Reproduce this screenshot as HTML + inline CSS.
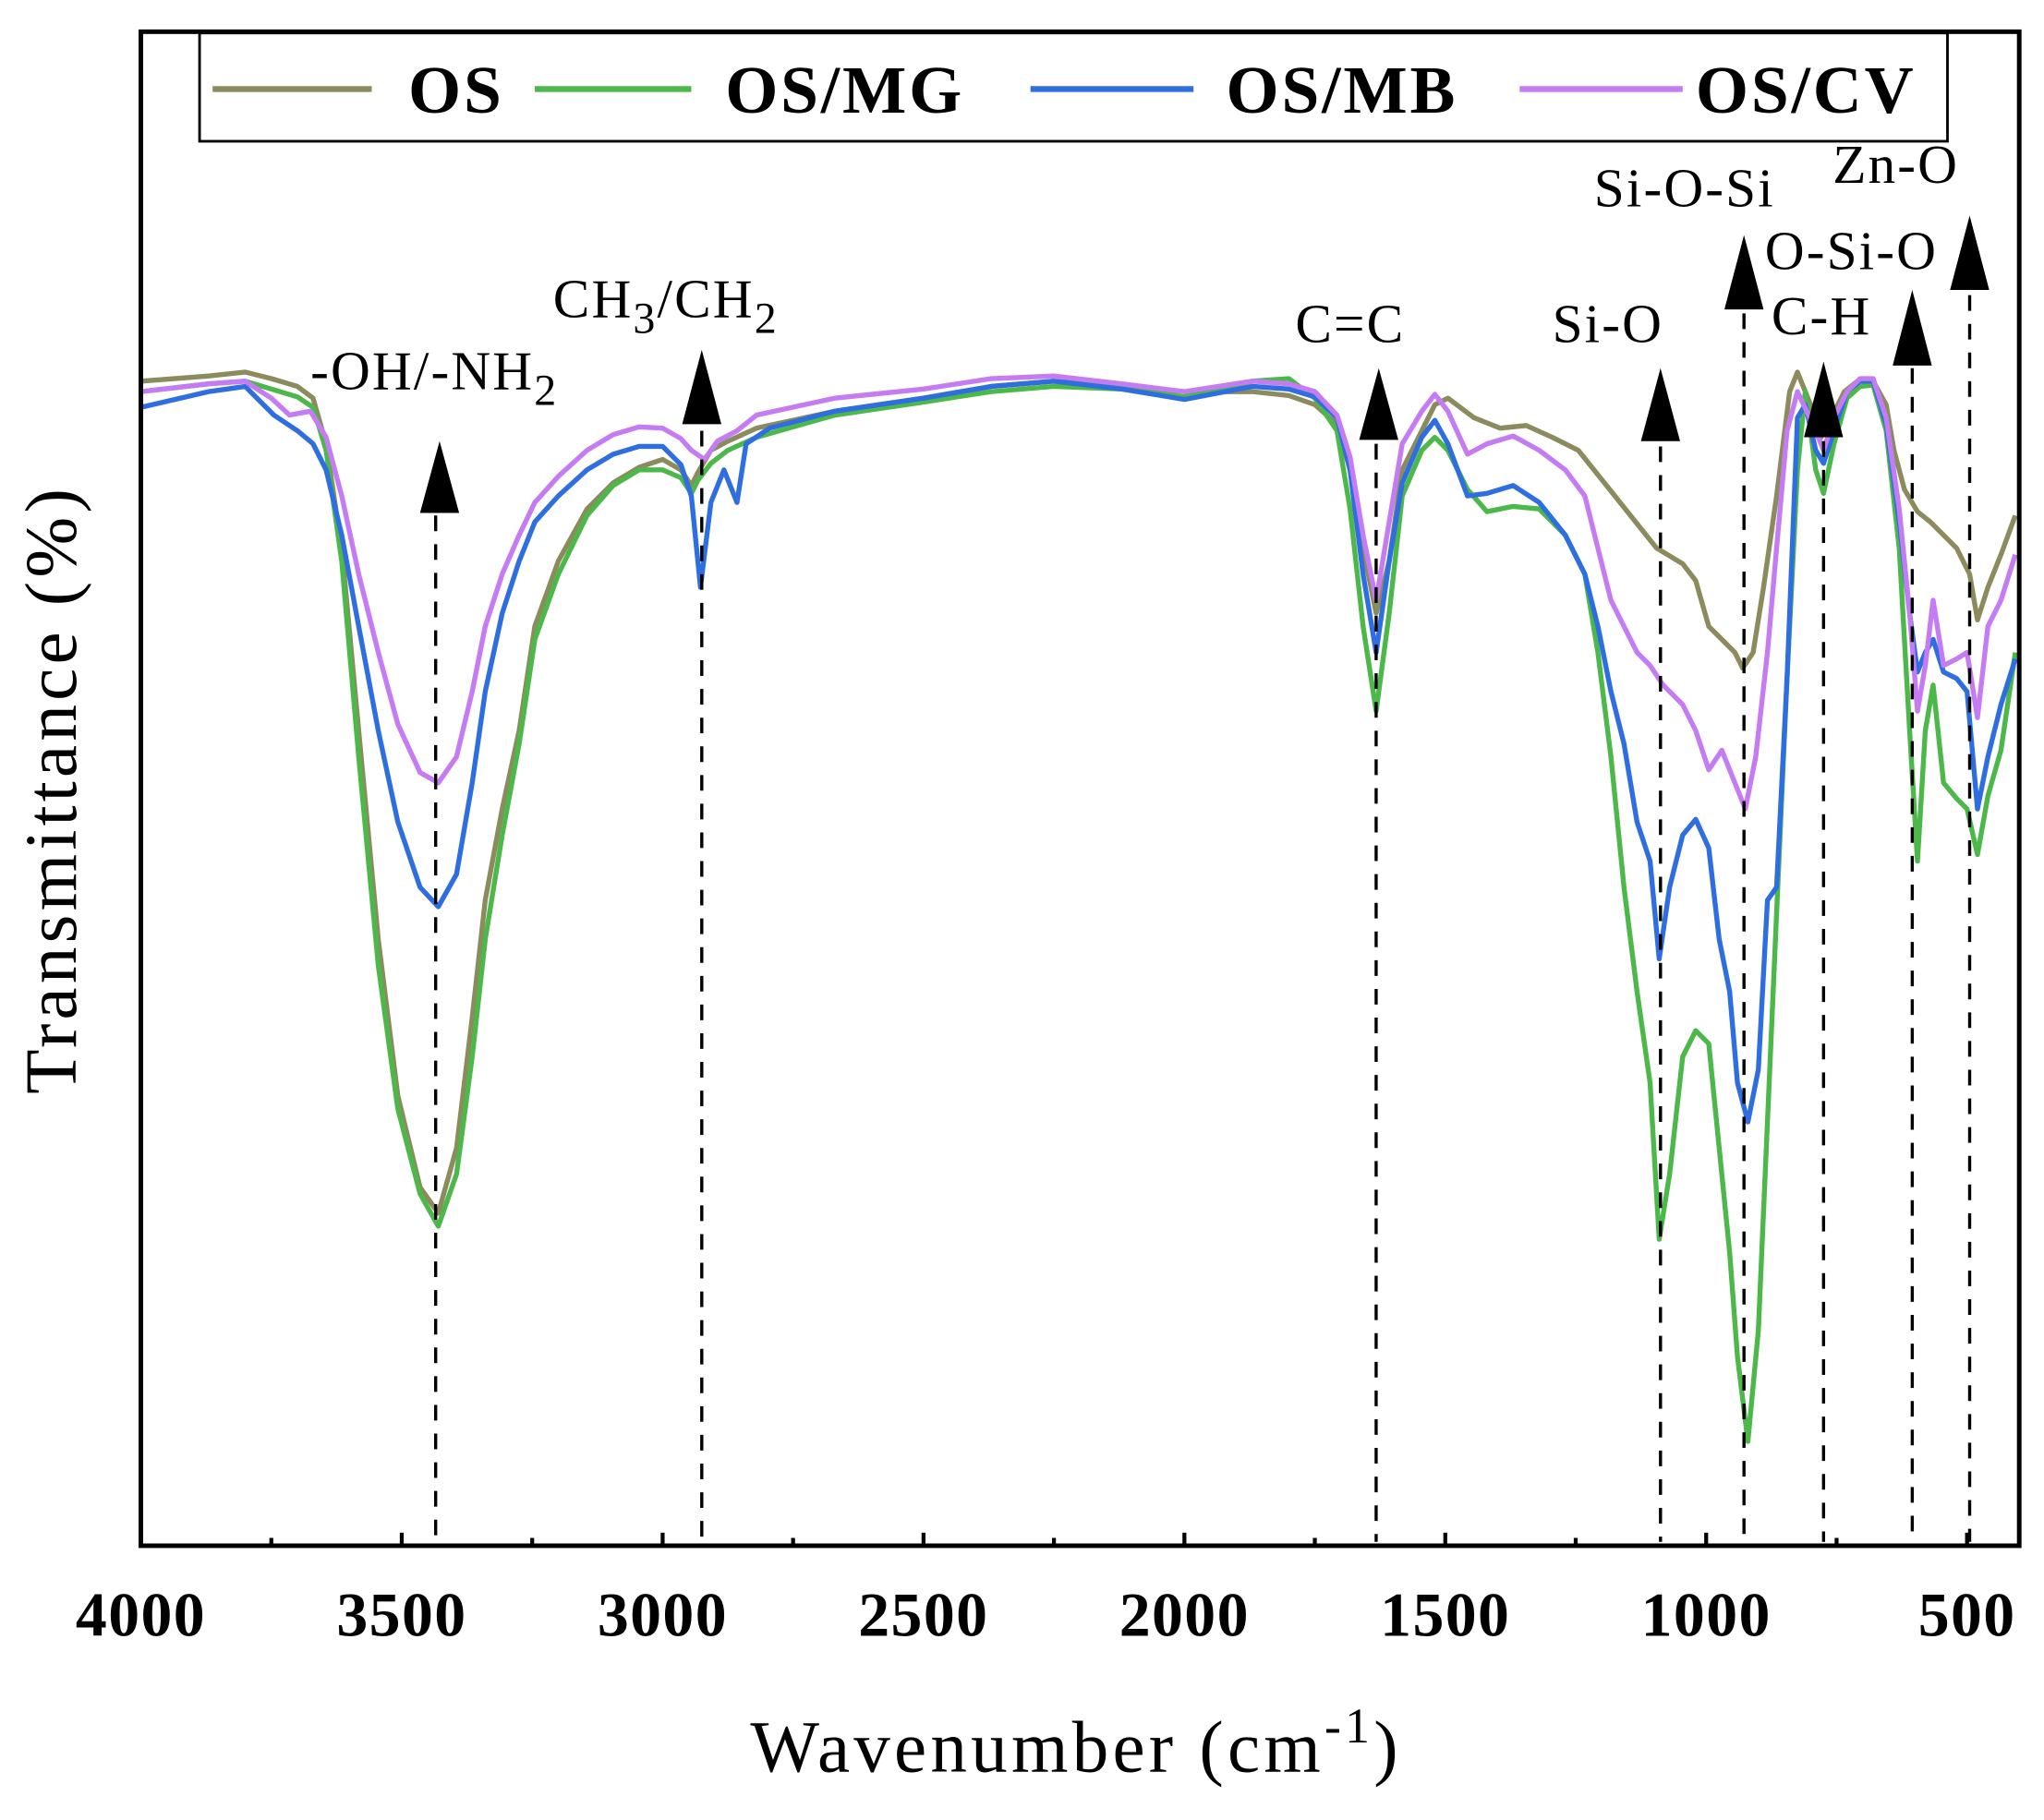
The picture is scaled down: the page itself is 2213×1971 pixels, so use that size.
<!DOCTYPE html>
<html><head><meta charset="utf-8"><style>
html,body{margin:0;padding:0;background:#fff;}
svg{display:block;}
text{font-family:"Liberation Serif","DejaVu Serif",serif;fill:#000;}
</style></head><body>
<svg width="2213" height="1971" viewBox="0 0 1567 1395" xmlns="http://www.w3.org/2000/svg">
<rect width="1567" height="1395" fill="#fff"/>
<g fill="none" stroke-width="3.8" stroke-linejoin="round">
<polyline stroke="#8b8b5e" points="108,292 160,288 188,285 208,290 228,296 240,305 250,340 262,420 275,560 290,720 305,840 322,910 336,930 350,880 362,780 372,690 385,620 398,560 410,480 428,430 450,390 470,370 490,358 508,352 522,360 530,372 535,362 545,345 558,338 580,328 640,315 708,305 760,296 808,292 860,296 908,300 960,300 988,303 1008,310 1025,325 1035,360 1045,420 1055,470 1065,430 1075,360 1090,330 1100,310 1110,305 1130,320 1150,328 1170,326 1190,335 1210,345 1230,370 1250,395 1270,420 1290,432 1300,445 1310,480 1320,490 1330,500 1336,512 1344,500 1352,450 1362,380 1372,300 1378,285 1388,310 1396,335 1404,320 1414,300 1424,292 1436,292 1446,310 1452,345 1460,375 1470,392 1480,400 1490,410 1500,420 1510,440 1516,475 1524,450 1534,425 1545,395"/>
<polyline stroke="#4cb84a" points="108,300 160,294 188,292 208,298 228,304 240,312 250,345 262,430 275,580 290,740 305,850 322,915 336,940 350,900 362,810 372,720 385,640 398,570 410,490 428,440 450,395 470,372 490,360 508,360 522,366 530,378 535,368 545,355 558,345 580,335 640,318 708,308 760,300 808,296 860,298 908,304 960,292 988,290 1008,305 1025,330 1035,390 1045,480 1055,545 1065,470 1075,380 1090,345 1100,335 1110,345 1125,375 1140,392 1160,388 1180,390 1200,410 1215,440 1225,500 1235,580 1245,680 1255,760 1265,830 1272,950 1280,900 1290,810 1300,790 1310,800 1318,880 1326,960 1332,1040 1340,1105 1348,1020 1355,860 1362,700 1370,520 1378,360 1384,300 1392,360 1398,378 1406,340 1416,305 1426,296 1436,295 1446,330 1456,420 1464,560 1470,660 1476,560 1482,525 1490,600 1500,612 1508,620 1516,655 1524,610 1534,575 1545,500"/>
<polyline stroke="#2e6ee0" points="108,312 160,300 188,296 210,318 228,330 240,340 250,360 262,410 275,480 290,560 305,630 322,680 336,695 350,670 362,600 372,530 385,470 398,430 410,400 428,380 450,360 470,348 490,342 508,342 522,356 530,380 537,450 545,385 555,360 565,385 572,340 590,328 640,315 708,305 760,296 808,292 860,298 908,306 960,296 988,298 1008,304 1025,320 1035,360 1045,440 1055,500 1065,430 1075,370 1090,335 1100,322 1110,340 1125,380 1140,378 1160,372 1180,385 1200,410 1215,440 1225,480 1235,530 1245,570 1255,630 1265,660 1272,735 1280,680 1290,640 1300,628 1310,650 1318,720 1326,760 1332,830 1340,860 1348,820 1355,690 1362,680 1370,520 1378,320 1384,310 1392,345 1398,355 1406,330 1416,300 1426,292 1436,292 1446,325 1456,400 1464,470 1470,515 1476,500 1482,490 1490,515 1500,520 1508,530 1516,620 1524,580 1534,540 1545,505"/>
<polyline stroke="#c57cf2" points="108,300 160,294 188,292 208,305 222,318 238,315 250,335 262,380 275,440 290,500 305,555 322,592 336,600 350,580 362,530 372,480 385,440 398,410 410,385 428,365 450,345 470,333 490,327 508,328 522,336 530,345 540,352 550,338 565,330 580,318 640,305 708,298 760,290 808,288 860,294 908,300 960,292 988,294 1008,300 1025,318 1035,350 1045,410 1055,460 1065,400 1075,340 1090,315 1100,302 1110,315 1125,348 1140,340 1160,334 1180,345 1200,360 1215,380 1225,420 1235,460 1245,480 1255,500 1265,510 1275,525 1290,540 1300,560 1310,590 1320,575 1330,600 1338,620 1346,580 1355,500 1362,420 1370,330 1378,300 1392,330 1398,345 1406,320 1416,300 1426,290 1436,290 1446,320 1456,390 1464,470 1470,545 1476,510 1482,460 1490,510 1500,505 1508,500 1516,550 1524,480 1534,460 1545,425"/>
</g>
<g stroke="#000" stroke-width="2.4" stroke-dasharray="12,10">
<line x1="334" y1="395" x2="334" y2="1182"/>
<line x1="538" y1="330" x2="538" y2="1182"/>
<line x1="1055" y1="340" x2="1055" y2="1182"/>
<line x1="1273" y1="342" x2="1273" y2="1182"/>
<line x1="1337" y1="240" x2="1337" y2="1182"/>
<line x1="1398" y1="338" x2="1398" y2="1182"/>
<line x1="1466" y1="282" x2="1466" y2="1182"/>
<line x1="1510" y1="226" x2="1510" y2="1182"/>
</g>
<g fill="#000">
<polygon points="337,338 322,393 352,393"/>
<polygon points="538,268 523,325 553,325"/>
<polygon points="1057,282 1042,337 1072,337"/>
<polygon points="1273,282 1258,338 1288,338"/>
<polygon points="1337,180 1322,237 1352,237"/>
<polygon points="1398,277 1383,335 1413,335"/>
<polygon points="1466,222 1451,280 1481,280"/>
<polygon points="1510,165 1495,222 1525,222"/>
</g>
<g font-size="42" letter-spacing="1.5">
<text x="238" y="298">-OH/-NH<tspan font-size="34" dy="12">2</tspan></text>
<text x="424" y="243">CH<tspan font-size="34" dy="12">3</tspan><tspan dy="-12">/CH</tspan><tspan font-size="34" dy="12">2</tspan></text>
<text x="993" y="262">C=C</text>
<text x="1190" y="262">Si-O</text>
<text x="1222" y="158">Si-O-Si</text>
<text x="1353" y="206">O-Si-O</text>
<text x="1358" y="256">C-H</text>
<text x="1405" y="140">Zn-O</text>
</g>
<rect x="153" y="25" width="1340" height="83" fill="#fff" stroke="#000" stroke-width="2"/>
<g stroke-width="4.5">
<line x1="163" y1="68" x2="285" y2="68" stroke="#8b8b5e"/>
<line x1="410" y1="68" x2="530" y2="68" stroke="#4cb84a"/>
<line x1="790" y1="68" x2="915" y2="68" stroke="#2e6ee0"/>
<line x1="1165" y1="68" x2="1290" y2="68" stroke="#c57cf2"/>
</g>
<g font-size="52" font-weight="bold" letter-spacing="2">
<text x="313" y="86">OS</text>
<text x="556" y="86">OS/MG</text>
<text x="940" y="86">OS/MB</text>
<text x="1300" y="86">OS/CV</text>
</g>
<rect x="108" y="24" width="1440" height="1161" fill="none" stroke="#000" stroke-width="3.5"/>
<g stroke="#000" stroke-width="3">
<line x1="308" y1="1185" x2="308" y2="1175"/><line x1="508" y1="1185" x2="508" y2="1175"/>
<line x1="708" y1="1185" x2="708" y2="1175"/><line x1="908" y1="1185" x2="908" y2="1175"/>
<line x1="1108" y1="1185" x2="1108" y2="1175"/><line x1="1308" y1="1185" x2="1308" y2="1175"/>
<line x1="1508" y1="1185" x2="1508" y2="1175"/>
<line x1="208" y1="1185" x2="208" y2="1179"/><line x1="408" y1="1185" x2="408" y2="1179"/>
<line x1="608" y1="1185" x2="608" y2="1179"/><line x1="808" y1="1185" x2="808" y2="1179"/>
<line x1="1008" y1="1185" x2="1008" y2="1179"/><line x1="1208" y1="1185" x2="1208" y2="1179"/>
<line x1="1408" y1="1185" x2="1408" y2="1179"/>
</g>
<g font-size="48" font-weight="bold" text-anchor="middle" letter-spacing="1">
<text x="108" y="1254">4000</text><text x="308" y="1254">3500</text>
<text x="508" y="1254">3000</text><text x="708" y="1254">2500</text>
<text x="908" y="1254">2000</text><text x="1108" y="1254">1500</text>
<text x="1308" y="1254">1000</text><text x="1508" y="1254">500</text>
</g>
<text x="825" y="1358" font-size="56" text-anchor="middle" letter-spacing="3">Wavenumber (cm<tspan font-size="38" dy="-22">-1</tspan><tspan dy="22">)</tspan></text>
<text transform="translate(58,605) rotate(-90)" font-size="56" text-anchor="middle" letter-spacing="3">Transmittance (%)</text>
</svg>
</body></html>
